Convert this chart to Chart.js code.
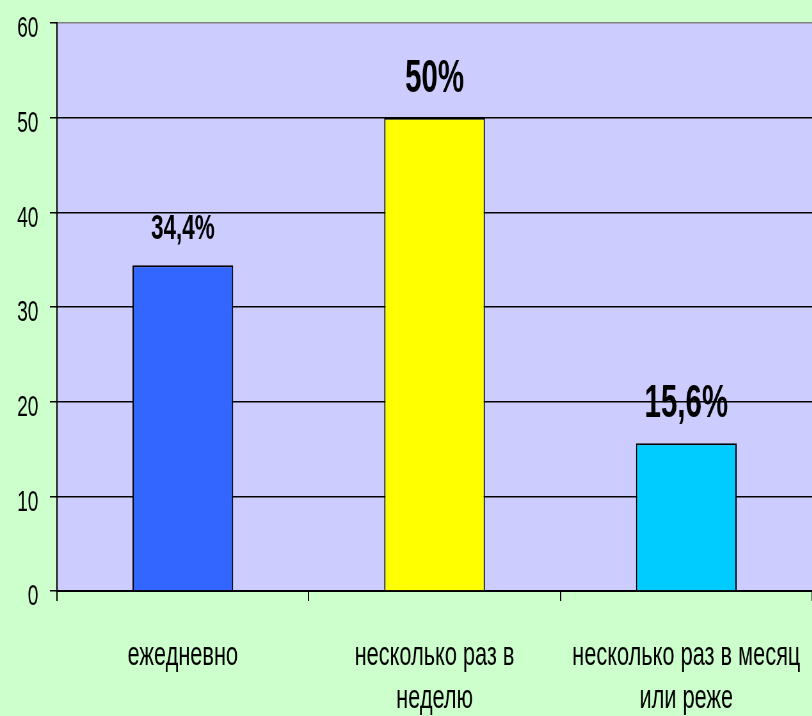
<!DOCTYPE html>
<html>
<head>
<meta charset="utf-8">
<script src="https://cdn.jsdelivr.net/npm/chart.js@4/dist/chart.umd.min.js"></script>
<style>
    body { margin: 0; background: #ccffcc; }
    #wrap { width: 812px; height: 716px; overflow: hidden; }
    /* narrow text like the original: draw wide, squeeze horizontally */
    #chart { transform: scaleX(0.64); transform-origin: 0 0; }
</style>
</head>
<body>
<div id="wrap"><canvas id="chart" width="1269" height="716"></canvas></div>
<script>
const categories = ['ежедневно', ['несколько раз в', 'неделю'], ['несколько раз в месяц', 'или реже']];
const values = [34.4, 50, 15.6];
const valueLabels = ['34,4%', '50%', '15,6%'];
const barColors = ['#3366ff', '#ffff00', '#00ccff'];
const yMin = 0, yMax = 60, yStep = 10;

const FONT = '"Liberation Sans", Arial, sans-serif';
const labelSizes = [35, 46, 46];

// plot area fill
const plotBg = {
    id: 'plotBg',
    beforeDraw(chart) {
        const { ctx, chartArea: a } = chart;
        ctx.save();
        ctx.fillStyle = '#ccccff';
        ctx.fillRect(a.left, a.top, a.right - a.left, a.bottom - a.top);
        ctx.restore();
    }
};

// percent labels above the bars
const barLabels = {
    id: 'barLabels',
    afterDatasetsDraw(chart) {
        const ctx = chart.ctx;
        chart.getDatasetMeta(0).data.forEach((bar, i) => {
            ctx.save();
            ctx.font = 'bold ' + labelSizes[i] + 'px ' + FONT;
            ctx.fillStyle = '#000';
            ctx.textAlign = 'center';
            ctx.textBaseline = 'alphabetic';
            ctx.fillText(valueLabels[i], bar.x, bar.y - 26);
            ctx.restore();
        });
    }
};

new Chart(document.getElementById('chart'), {
    type: 'bar',
    data: {
        labels: categories,
        datasets: [{
            data: values,
            backgroundColor: barColors,
            borderColor: '#000',
            borderWidth: 2,
            categoryPercentage: 1,
            barPercentage: 0.4
        }]
    },
    options: {
        responsive: false,
        devicePixelRatio: 1,
        animation: false,
        layout: { padding: { top: 23, right: 0, left: 0, bottom: 0 } },
        plugins: {
            legend: { display: false },
            tooltip: { enabled: false }
        },
        scales: {
            x: {
                afterFit: s => {
                    s.height = 125;
                    s.paddingLeft = 0;
                    s.paddingRight = 0;
                },
                grid: {
                    offset: true,
                    drawOnChartArea: false,
                    color: '#000',
                    lineWidth: 2,
                    tickLength: 10
                },
                border: { color: '#000', width: 2 },
                ticks: {
                    color: '#000',
                    padding: 34,
                    maxRotation: 0,
                    autoSkip: false,
                    font: { family: FONT, size: 34, lineHeight: 1.24 }
                }
            },
            y: {
                min: yMin,
                max: yMax,
                afterFit: s => {
                    s.width = 89;
                    s.paddingTop = 0;
                    s.paddingBottom = 0;
                },
                grid: {
                    color: ctx => ctx.tick && ctx.tick.value === yMax ? '#808080' : '#000',
                    tickColor: '#000',
                    lineWidth: 1.5,
                    tickLength: 11
                },
                border: { color: '#000', width: 2 },
                ticks: {
                    stepSize: yStep,
                    color: '#000',
                    padding: 18,
                    labelOffset: 6,
                    font: { family: FONT, size: 30 }
                }
            }
        }
    },
    plugins: [plotBg, barLabels]
});
</script>
</body>
</html>
